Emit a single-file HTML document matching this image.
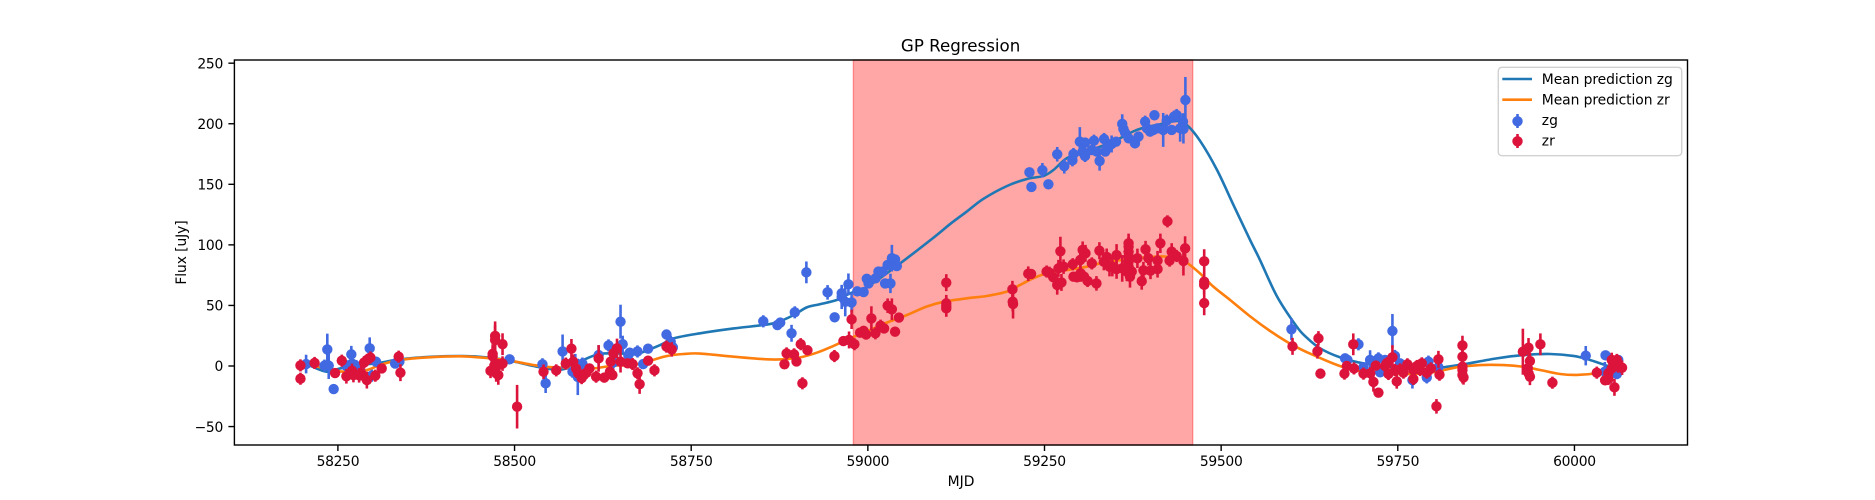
<!DOCTYPE html>
<html>
<head>
<meta charset="utf-8">
<title>GP Regression</title>
<style>
html,body{margin:0;padding:0;background:#fff;}
svg{display:block;}
text{font-family:"DejaVu Sans","Liberation Sans",sans-serif;fill:#000;}
</style>
</head>
<body>
<svg id="chart" xmlns="http://www.w3.org/2000/svg" width="1875" height="500" viewBox="0 0 1875 500">
  <rect x="0" y="0" width="1875" height="500" fill="#fff"/>
  <text x="960.6" y="51.5" font-size="16.67" text-anchor="middle">GP Regression</text>
  <g id="span-layer"></g>
  <g id="curve-layer"></g>
  <g id="zg-layer"></g>
  <g id="zr-layer"></g>
  <rect x="234.4" y="60" width="1453.1" height="385" fill="none" stroke="#000" stroke-width="1.4"/>
  <g id="x-axis"></g>
  <g id="y-axis"></g>
  <text x="961" y="486" font-size="13.89" text-anchor="middle">MJD</text>
  <text x="0" y="0" font-size="13.89" letter-spacing="-0.1" text-anchor="middle" transform="translate(186,252.5) rotate(-90)">Flux [uJy]</text>
  <g>
    <rect x="1498.3" y="67.3" width="183.4" height="88.4" rx="3.5" ry="3.5" fill="#fff" fill-opacity="0.8" stroke="#ccc" stroke-opacity="0.9" stroke-width="1.4"/>
    <line x1="1502.3" y1="79" x2="1532" y2="79" stroke="#1f77b4" stroke-width="2.6"/>
    <text x="1541.8" y="84" font-size="13.89" letter-spacing="-0.08">Mean prediction zg</text>
    <line x1="1502.3" y1="99.7" x2="1532" y2="99.7" stroke="#ff7f0e" stroke-width="2.6"/>
    <text x="1541.8" y="104.5" font-size="13.89" letter-spacing="-0.08">Mean prediction zr</text>
    <line x1="1517.5" y1="114" x2="1517.5" y2="128" stroke="#4169e1" stroke-width="2.6"/>
    <circle cx="1517.5" cy="121.3" r="5.2" fill="#4169e1"/>
    <text x="1541.8" y="125" font-size="13.89">zg</text>
    <line x1="1517.5" y1="134" x2="1517.5" y2="148" stroke="#dc143c" stroke-width="2.6"/>
    <circle cx="1517.5" cy="141.3" r="5.2" fill="#dc143c"/>
    <text x="1541.8" y="145.5" font-size="13.89">zr</text>
  </g>
</svg>
<script>
const xTicks = [58250,58500,58750,59000,59250,59500,59750,60000];
const yTicks = [-50,0,50,100,150,200,250];
const spanStart = 58979.5;
const spanEnd = 59459.8;

const zgCurveMjd = [58205,58210.7,58234,58253,58276.7,58305,58338,58385,58427.6,58460.6,58493.7,58526.7,58555,58574,58597.5,58621,58649,58673,58706,58725,58762.6,58810,58852,58871,58895,58913.5,58932,58956,58975,58998.4,59045.6,59093,59116.4,59140,59163.6,59196.6,59225,59248.5,59262.6,59281.5,59305,59328.7,59352,59380.6,59409,59437,59451.3,59470,59494,59517.4,59541,59555,59579,59607,59621,59640,59668,59701,59748.5,59795.7,59814.6,59843,59890,59927.8,59965.5,59998.6,60022,60045.7,60062];
const zgCurveFlux = [1,0.2,-4.7,-2,0.8,2.2,5.5,7.7,8.2,7.1,4.4,0,-2.8,-2,5,10,10.4,10,17.3,22.8,27,31,33.8,36,42,48.4,51,54.5,60,65,84.7,106,117.2,127.5,138,148.5,154.4,156.9,161.8,171.5,177,181,186.6,194.9,199,202.3,199,186,162,133,104,87.5,57.5,32.5,23.5,14.6,7.2,2.2,-1.1,-3.3,-1.1,1.4,6.3,9,9.9,8.3,5,0.3,-3.3];
const zrCurveMjd = [58205,58215.4,58243.7,58258,58291,58310,58338,58376,58423,58460.6,58493.7,58526.7,58555,58588,58611.6,58640,58668,58692,58715.4,58739,58762.6,58810,58857,58880.5,58904,58927.7,58951,58975,59003,59026.8,59055,59083,59107,59140,59168,59196.6,59215.4,59234,59253,59281.5,59310,59338,59361.6,59394.7,59423,59446.6,59470,59489,59512.7,59541,59569,59593,59612,59630.6,59668,59701,59748.5,59795.7,59833.5,59866.5,59899.5,59927.8,59951.4,59979.7,60003.3,60031.6,60050.4,60062];
const zrCurveFlux = [2,0.2,-3.3,-4.7,-3.3,1,5,7.1,8,6.6,4.4,0.8,-1.1,-1.4,-2,0.3,0.8,4.4,8.2,9.9,10.3,7.7,5.5,5.5,7.1,11,16.5,22.8,29.7,35.8,42,49,53,55.9,57.8,61.4,66.9,72.4,76.5,79.2,82,86.1,87.5,89.7,90.3,87,76.5,65.5,54.5,41,29,20,14,9,0,-4.7,-6.6,-5.5,-1.1,0.8,0.8,-0.6,-3.3,-6.6,-7.4,-6,-3.3,-1.1];

const zgMjd = [
58205,58235,58231,58237,58244,58262,58269,58270,58276,58281,
58295,58298,58304,58331,58337,58493,58539.5,58544,58568,58582,
58589.5,58586,58596,58619,58633,58653,58650,58640,58661,58663,
58674,58689,58682,58715,58721,58724,58852,58872,58876,58896.6,
58892,58913,58943,58953,58963,58963,58968,58972.5,58977,58985,
58994,58998.5,59001,59011,59015,59021,59028,59034,59038.5,59041,
59024.4,59032,59228.7,59231.5,59247,59255.5,59268,59278,59289.5,59291,
59300,59307.4,59304,59307.4,59320,59317,59324,59328,59334.3,59336,
59338,59345,59351.3,59360,59361.7,59364,59369,59378,59383,59392.4,
59395,59399.4,59405.6,59404,59410,59418,59423,59430,59433.4,59437,
59442,59446.6,59449.4,59446,59599.5,59675.4,59678.7,59694.3,59701.4,59710.8,
59722.6,59725,59732,59742.4,59746,59753,59770.7,59793.4,59791,59807.5,
60016,60044,60043,60062,60060];
const zgFlux = [
1.6,13.7,0.3,0.3,-19,0,9.6,2,0,-3,
14.6,-8,3.5,2,3.5,5.5,1.4,-14.3,12,-4.7,
-9,2,2,9,17,18,36.6,3,9,11,
12,14.3,1.6,26,20,15.4,36.9,33.8,35.8,44.3,
27,77.3,60.8,40.2,60,57,53,67.4,52.5,61.6,
61,72,68.2,72.4,78,78,83.4,89,88,82.5,
68.2,68.2,159.9,147.8,161.6,150,174.8,164.9,169.8,175,
185.2,184.4,177,173.4,186,178.3,177,169.3,187.4,177,
179.7,183.3,185.2,199.8,195.7,192.6,188,183.8,189.4,201.7,
196.2,193.5,207,194.9,196.2,194.9,202.6,194.9,205.9,207.2,
196.2,195.7,219.6,201.7,30.3,6.3,5,17.9,-1,5,
6.3,-5.2,5,28.9,8.3,2.2,-11.6,3.6,-9.4,-1,
8.5,8.8,-4.7,5,-6.6];
const zgErr = [
7.7,13,5,11,4,5,7,5,5,5,
9,5,4,4,4,3,5,8,14,5,
15,8,5,8,5,7,14,5,4,4,
5,4,4,4,5,5,5,3,3,5,
7,9,6,4,6,10,12,9,8,3,
3,4,4,4,4,4,4,11,4,4,
4,8,4,4,6,4,6,6,5,5,
12,4,7,5,5,4,4,8,5,4,
5,7,4,8,4,4,4,4,4,5,
4,4,4,4,4,14,5,4,5,5,
11,12,19,7,9,4,4,5,4,8,
5,4,4,14,5,4,7,5,5,4,
8,4,8,4,4];

const zrMjd = [
58197,58197,58217,58246,58255.5,58262,58270,58272,58280,58283,
58291,58287,58291,58296,58303,58312,58336,58338.5,58472.5,58472.5,
58469,58469,58466,58472.5,58474,58477,58483,58483,58472,58477,
58503.6,58541,58559,58572.5,58580.5,58583,58587,58590,58595,58597.5,
58602,58606,58619,58615.4,58627,58638.5,58635,58636,58640,58645,
58650,58660,58667,58674,58677,58689,58698,58715,58722.5,58882,
58885,58895.6,58899,58905,58914.5,58907.4,58952.7,58965.4,58973.4,58977,
58981,58989,58994,58997.5,59005,59010.7,59018,59023,59028,59034,
59038.5,59044,59111,59111,59111,59111,59204.6,59205,59205.5,59227,
59231,59253,59257,59262.6,59268,59274,59269.7,59277,59272.5,59290,
59291,59296,59300.6,59304,59308,59301,59306,59311,59317,59323.5,
59327.7,59334,59338,59342,59352,59346,59352,59360,59369,59369,
59369,59369,59369,59369,59366.5,59373.5,59371,59381.5,59387.6,59393,
59397,59390,59400,59410,59410,59414,59424,59430,59427,59437,
59446.6,59449,59476,59476,59476,59476,59601,59637.7,59636.3,59640.5,
59674.5,59677.8,59688,59687,59701.4,59711,59715.5,59718.8,59722.6,59732,
59734.4,59736.8,59742.4,59746,59748.5,59753.3,59758,59763.6,59772,59772,
59777,59784,59781.6,59791,59797,59807.5,59809,59804.7,59841.5,59841.5,
59841.5,59841.5,59843,59841.5,59927,59935,59937,59934,59935,59937,
59951.8,59968.8,60031.6,60043.4,60048,60052.8,60060,60055,60052.8,60048,
60056.6,60062,60067.4];
const zrFlux = [
0.5,-10.5,2.5,-5.8,4.4,-8.5,-4,-7.5,-7.7,-6,
-11.6,2.8,5,7,-8,-2,7.7,-5.5,24.8,21.5,
10,8,-4,2,-6,-7.5,18,2,-0.5,0.8,
-33.6,-4.7,-3.6,2,14.3,3.6,-2,-6,-10,-7.5,
-5.5,-2,6.3,-8.8,-9.6,-7.5,-4.7,3.6,10.4,14.6,
3.6,2.2,1.6,-6,-15,4.4,-3.6,16,13.7,1.4,
10.4,9.6,3.8,18,13,-14.3,8.2,20.6,21.5,38.5,
18,27.5,29,26,39.3,27,33.3,31,49.8,46.8,
28.3,40,68.8,51.7,47.6,49.5,63.3,53.1,51.2,76.2,
76,78,77,73.2,66.9,69,80.6,82,94.7,84,
73.7,73.2,87.5,95.8,93,76.5,73.7,70.2,84.7,68.2,
95.2,86,90,82,91.6,82,80,80.6,101.3,98.5,
94.4,90.3,86.1,82,78,78,73.7,88.9,70,96.3,
89,79,78.7,80,87,101.3,119.4,94.4,87,90.8,
86.7,97.1,86.4,69.6,67,51.9,16.2,22.8,12.1,-6.3,
-6.3,0,-2,17.9,-6.3,-6,-13.2,0.3,-22,0,
2.2,-6.6,7.2,-3.3,-12.7,-2.8,-5.5,1.4,-3.3,-10.7,
0,2.2,-3.3,-5.5,-2,5.5,-7.2,-33.3,17,7.7,
-0.6,-7.4,-9.4,-3.3,11.8,15.1,4.1,-1.9,-6,-8.8,
17.9,-13.8,-5.5,-11.8,-10.7,5,5,2.2,-2,-6,
-17.6,-0.6,-1.4];
const zrErr = [
5,5,5,4,5,6,6,6,6,6,
7,5,5,5,5,4,5,7,12,12,
8,8,6,5,7,8,9,6,6,5,
18,6,5,5,8,6,5,5,5,5,
5,4,11,5,4,4,5,5,6,8,
9,4,5,5,8,4,5,5,6,3,
5,5,4,5,3,5,5,4,7,8,
5,4,4,4,10,5,5,4,6,9,
4,3,7,7,7,7,7,8,12,6,
4,5,5,4,8,7,7,6,12,5,
4,4,8,7,7,7,5,5,5,6,
7,7,7,8,9,8,8,11,8,8,
8,8,8,8,8,8,9,8,7,7,
6,7,7,7,8,8,5,7,5,5,
12,10,10,8,8,10,7,6,6,3,
5,4,5,9,5,5,8,4,4,6,
5,5,10,5,6,5,5,5,5,5,
5,5,5,5,5,7,5,6,8,7,
6,7,6,6,19,8,7,6,5,7,
9,5,5,4,5,6,5,5,5,5,
7,5,6];

const NS = 'http://www.w3.org/2000/svg';
function xScale(m){ return 337.9 + (m - 58250) * 0.7066; }
function yScale(v){ return 366 - v * 1.2113; }
function make(tag, attrs, parent){
  const el = document.createElementNS(NS, tag);
  for (const k in attrs) el.setAttribute(k, attrs[k]);
  parent.appendChild(el);
  return el;
}
function smoothPath(xs, ys){
  const p = xs.map((m, i) => [xScale(m), yScale(ys[i])]);
  let d = 'M' + p[0][0].toFixed(2) + ' ' + p[0][1].toFixed(2);
  for (let i = 0; i < p.length - 1; i++){
    const a = p[Math.max(i - 1, 0)], b = p[i], c = p[i + 1], e = p[Math.min(i + 2, p.length - 1)];
    const c1x = b[0] + (c[0] - a[0]) / 6, c1y = b[1] + (c[1] - a[1]) / 6;
    const c2x = c[0] - (e[0] - b[0]) / 6, c2y = c[1] - (e[1] - b[1]) / 6;
    d += 'C' + c1x.toFixed(2) + ' ' + c1y.toFixed(2) + ' ' + c2x.toFixed(2) + ' ' + c2y.toFixed(2) + ' ' + c[0].toFixed(2) + ' ' + c[1].toFixed(2);
  }
  return d;
}

const spanLayer = document.getElementById('span-layer');
const spanRect = make('rect', {x: xScale(spanStart), y: 60, width: xScale(spanEnd) - xScale(spanStart), height: 385, fill: '#ff0000', 'fill-opacity': 0.35, stroke: '#ff0000', 'stroke-opacity': 0.35, 'stroke-width': 1.4}, spanLayer);



const curveLayer = document.getElementById('curve-layer');
const zgCurve = make('path', {d: smoothPath(zgCurveMjd, zgCurveFlux), fill: 'none', stroke: '#1f77b4', 'stroke-width': 2.6, 'stroke-linejoin': 'round'}, curveLayer);


const zrCurve = make('path', {d: smoothPath(zrCurveMjd, zrCurveFlux), fill: 'none', stroke: '#ff7f0e', 'stroke-width': 2.6, 'stroke-linejoin': 'round'}, curveLayer);



function drawPoints(layer, mjd, flux, err, color, label){
  mjd.forEach((m, i) => {
    const x = xScale(m), y = yScale(flux[i]);
    const bar = make('line', {x1: x, x2: x, y1: yScale(flux[i] - err[i]), y2: yScale(flux[i] + err[i]), stroke: color, 'stroke-width': 2.6}, layer);
    
    
    const dot = make('circle', {cx: x, cy: y, r: 5.2, fill: color}, layer);
    
    
  });
}
drawPoints(document.getElementById('zg-layer'), zgMjd, zgFlux, zgErr, '#4169e1', 'zg');
drawPoints(document.getElementById('zr-layer'), zrMjd, zrFlux, zrErr, '#dc143c', 'zr');

const xAxis = document.getElementById('x-axis');
xTicks.forEach(t => {
  const x = xScale(t);
  const mark = make('line', {x1: x, x2: x, y1: 445, y2: 451, stroke: '#000', 'stroke-width': 1.4}, xAxis);
  
  
  const lab = make('text', {x: x, y: 466, 'font-size': 13.89, 'text-anchor': 'middle', 'letter-spacing': -0.3}, xAxis);
  
  
  lab.textContent = String(t);
});
const yAxis = document.getElementById('y-axis');
yTicks.forEach(t => {
  const y = yScale(t);
  const mark = make('line', {x1: 228.4, x2: 234.4, y1: y, y2: y, stroke: '#000', 'stroke-width': 1.4}, yAxis);
  
  
  const lab = make('text', {x: 223, y: y + 5.2, 'font-size': 13.89, 'text-anchor': 'end', 'letter-spacing': -0.3}, yAxis);
  
  
  lab.textContent = String(t).replace('-', '\u2212');
});
</script>
</body>
</html>
